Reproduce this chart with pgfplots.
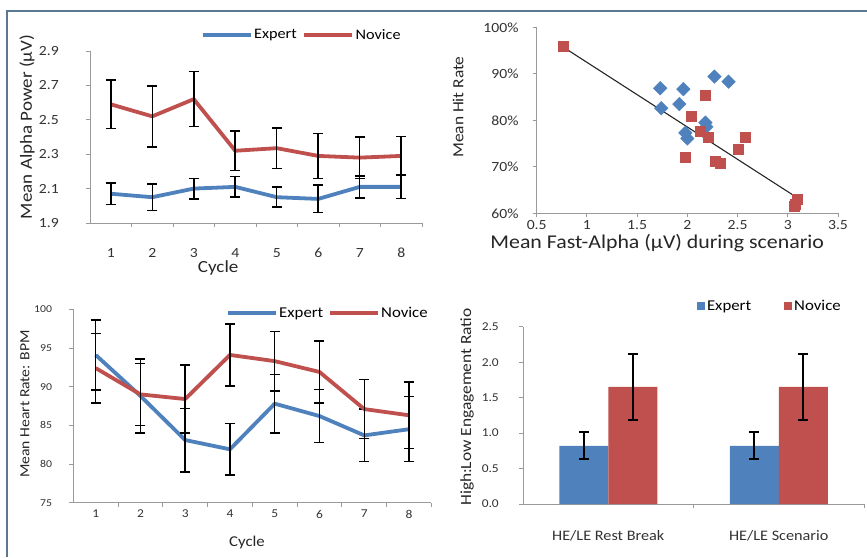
\documentclass[border=0pt]{standalone}
\usepackage{pgfplots}
\pgfplotsset{compat=1.18}
\usepackage{fontspec}
\setmainfont[FakeStretch=1.12]{Carlito}
\definecolor{expert}{HTML}{4F81BD}
\definecolor{novice}{HTML}{C0504D}
\definecolor{axgray}{HTML}{9A9A9A}
\definecolor{framec}{HTML}{5B7893}
\newcommand{\fs}[1]{\fontsize{#1}{#1}\selectfont}
\pgfplotsset{
 excel/.style={
  scale only axis,
  axis x line*=bottom, axis y line*=left,
  axis line style={draw=axgray, line width=0.9pt},
  tick style={draw=axgray, line width=0.9pt},
  tick align=outside, major tick length=4pt, minor tick length=4pt,
  xtick pos=bottom, ytick pos=left,
  /pgf/number format/assume math mode=true,
  clip=false,
  tick label style={text=black!80, inner sep=0pt},
  label style={text=black!85},
 },
 excelline/.style={line width=3.8pt, mark=none, line join=round},
 ebar/.style={
  error bars/y dir=both, error bars/y explicit,
  error bars/error bar style={black, line width=1.5pt},
  error bars/error mark options={rotate=90, black, mark size=5pt, line width=1.5pt}},
}
\begin{document}
\begin{tikzpicture}
\path[use as bounding box, fill=white] (0pt,0pt) rectangle (867pt,557pt);
\draw[framec, line width=2pt] (7pt,0pt) -- (7pt,546pt) -- (867pt,546pt);

% Panel 1: Mean Alpha Power
\begin{axis}[excel, at={(90pt,334pt)}, anchor=south west, width=332pt, height=172pt,
  xmin=0.5, xmax=8.5, ymin=1.9, ymax=2.9,
  xtick={1,2,3,4,5,6,7,8}, major x tick style={draw=none},
  minor xtick={1.5,2.5,3.5,4.5,5.5,6.5,7.5,8.5},
  ytick={1.9,2.1,2.3,2.5,2.7,2.9},
  yticklabel style={/pgf/number format/fixed, /pgf/number format/precision=1, /pgf/number format/fixed zerofill, anchor=east, xshift=-27pt},
  xticklabel style={anchor=north, yshift=-21pt},
  tick label style={font=\fs{14}},
  ylabel={Mean Alpha Power (μV)}, ylabel style={at={(rel axis cs:-0.19,0.558)}, anchor=center, font=\fs{17}},
  xlabel={Cycle}, xlabel style={at={(rel axis cs:0.386,-0.262)}, anchor=center, font=\fs{17}},
  legend style={draw=none, fill=none, at={(rel axis cs:0.637,1.093)}, anchor=center, legend columns=2, font=\fs{14.5}, inner sep=0pt, nodes={inner sep=1.5pt}, /tikz/every even column/.append style={column sep=4pt}},
  legend image code/.code={\draw[#1, line width=3.8pt] (0pt,0pt) -- (48pt,0pt);},
]
\addplot[expert, excelline, ebar] table[x=x, y=y, y error=e] {
x y e
1 2.07 0.063
2 2.05 0.077
3 2.10 0.060
4 2.11 0.060
5 2.05 0.058
6 2.04 0.080
7 2.11 0.064
8 2.11 0.067
};
\addplot[novice, excelline, ebar] table[x=x, y=y, y error=e] {
x y e
1 2.59 0.140
2 2.52 0.177
3 2.62 0.160
4 2.32 0.115
5 2.335 0.118
6 2.29 0.130
7 2.28 0.120
8 2.29 0.112
};
\legend{Expert, Novice}
\end{axis}

% Panel 2: scatter
\begin{axis}[excel, at={(536.7pt,343.7pt)}, anchor=south west, width=301.3pt, height=186pt,
  xmin=0.5, xmax=3.5, ymin=60, ymax=100,
  xtick={0.5,1,1.5,2,2.5,3,3.5}, ytick={60,70,80,90,100},
  yticklabel={\pgfmathprintnumber{\tick}\%},
  yticklabel style={anchor=east, xshift=-14pt},
  xticklabel style={anchor=north, yshift=-3pt},
  tick label style={font=\fs{14}},
  ylabel={Mean Hit Rate}, ylabel style={at={(rel axis cs:-0.261,0.571)}, anchor=center, font=\fs{15.5}},
  xlabel={Mean Fast-Alpha (μV) during scenario}, xlabel style={at={(rel axis cs:0.40,-0.16)}, anchor=center, font=\fs{19.5}},
]
\addplot[only marks, mark=square*, mark size=4.8pt, mark options={rotate=45, fill=expert, draw=expert}] table[x=x, y=y] {
x y
1.73 86.9
1.96 86.7
1.92 83.5
1.74 82.6
2.27 89.4
2.41 88.3
2.18 79.5
2.19 78.6
1.98 77.3
2.00 76.1
};
\addplot[only marks, mark=square*, mark size=5pt, mark options={fill=novice, draw=novice}] table[x=x, y=y] {
x y
0.76 96.0
2.18 85.4
2.04 80.9
2.13 77.6
2.21 76.3
1.98 72.0
2.28 71.1
2.33 70.8
2.51 73.7
2.58 76.4
3.09 63.1
3.07 62.0
3.06 61.5
};
\addplot[black!85, line width=1.1pt, mark=none] coordinates {(0.76,95.8) (3.09,63.4)};
\end{axis}

% Panel 3: Heart rate
\begin{axis}[excel, at={(73.3pt,54.3pt)}, anchor=south west, width=358.1pt, height=193.4pt,
  xmin=0.5, xmax=8.5, ymin=75, ymax=100,
  xtick={1,2,3,4,5,6,7,8}, major x tick style={draw=none},
  minor xtick={1.5,2.5,3.5,4.5,5.5,6.5,7.5,8.5},
  ytick={75,80,85,90,95,100},
  yticklabel style={anchor=east, xshift=-17pt, font=\fs{10.5}},
  xticklabel style={anchor=north, yshift=-3pt, font=\fs{12}},
  ylabel={Mean Heart Rate: BPM}, ylabel style={at={(rel axis cs:-0.135,0.51)}, anchor=center, font=\fs{14}},
  xlabel={Cycle}, xlabel style={at={(rel axis cs:0.485,-0.208)}, anchor=center, font=\fs{15}},
  legend style={draw=none, fill=none, at={(rel axis cs:0.71,0.981)}, anchor=center, legend columns=2, font=\fs{15}, inner sep=0pt, nodes={inner sep=1.5pt}, /tikz/every even column/.append style={column sep=3pt}},
  legend image code/.code={\draw[#1, line width=3.8pt] (0pt,0pt) -- (48pt,0pt);},
]
\addplot[expert, excelline, ebar] table[x=x, y=y, y error=e] {
x y e
1 94.1 4.5
2 88.8 4.8
3 83.1 4.1
4 81.9 3.35
5 87.8 3.8
6 86.2 3.45
7 83.7 3.4
8 84.5 4.2
};
\addplot[novice, excelline, ebar] table[x=x, y=y, y error=e] {
x y e
1 92.4 4.5
2 89.0 4.0
3 88.4 4.4
4 94.1 4.0
5 93.3 3.85
6 91.9 4.0
7 87.1 3.8
8 86.3 4.3
};
\legend{Expert, Novice}
\end{axis}

% Panel 4: bars
\begin{axis}[excel, at={(523pt,53pt)}, anchor=south west, width=341pt, height=177.3pt,
  xmin=-0.5, xmax=1.5, ymin=0, ymax=2.5,
  ybar=0pt, bar width=49pt,
  xtick={0,1}, xticklabels={HE/LE Rest Break, HE/LE Scenario}, major x tick style={draw=none},
  minor xtick={0.5,1.5},
  ytick={0,0.5,1,1.5,2,2.5},
  yticklabel style={/pgf/number format/fixed, /pgf/number format/precision=1, /pgf/number format/fixed zerofill, anchor=east, xshift=-20pt, font=\fs{12}},
  xticklabel style={anchor=north, yshift=-22pt, font=\fs{14.5}},
  ylabel={High:Low Engagement  Ratio}, ylabel style={at={(rel axis cs:-0.164,0.547)}, anchor=center, font=\fs{15.5}},
  legend style={draw=none, fill=none, at={(rel axis cs:0.724,1.117)}, anchor=center, legend columns=2, font=\fs{15}, inner sep=0pt, nodes={inner sep=2pt}, /tikz/every even column/.append style={column sep=31pt}},
  legend image code/.code={\fill[#1] (0pt,-4pt) rectangle (8pt,4pt);},
]
\addplot[fill=expert, draw=none, error bars/y dir=both, error bars/y explicit,
  error bars/error bar style={black, line width=1.8pt},
  error bars/error mark options={rotate=90, black, mark size=5pt, line width=1.8pt}] table[x=x, y=y, y error=e] {
x y e
0 0.82 0.19
1 0.82 0.19
};
\addplot[fill=novice, draw=none, error bars/y dir=both, error bars/y explicit,
  error bars/error bar style={black, line width=1.8pt},
  error bars/error mark options={rotate=90, black, mark size=5pt, line width=1.8pt}] table[x=x, y=y, y error=e] {
x y e
0 1.65 0.47
1 1.65 0.47
};
\legend{Expert, Novice}
\end{axis}
\end{tikzpicture}
\end{document}
